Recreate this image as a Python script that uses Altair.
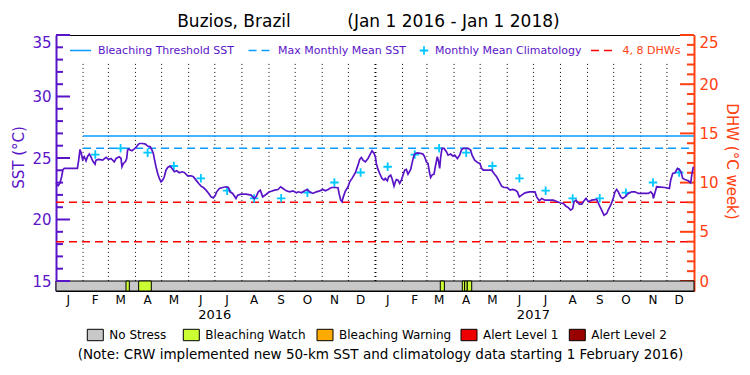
import altair as alt
import pandas as pd

START = pd.Timestamp("2016-01-01")
TOTAL_DAYS = 731

# ---------------- data ----------------
# daily SST (days since 1 Jan 2016, degC)
sst_day = [0, 2.5, 4.5, 6.5, 8.0, 9.5, 24.5, 26.0, 27.5, 29.0, 30.5, 32.5, 34.4, 36.3, 38.2, 40.0,
           42.0, 44.7, 45.8, 48.9, 53.5, 57.3, 60.3, 63.0, 66.8, 68.8, 72.6, 74.5, 75.6, 77.2,
           79.4, 81.0, 82.0, 83.0, 87.0, 89.0, 91.7, 93.6, 95.5, 99.3, 102.4, 105.0, 108.0,
           110.0, 111.5, 113.0, 114.6, 116.5, 118.4, 120.3, 122.2, 124.1, 126.0, 128.0, 130.6,
           133.0, 135.6, 138.3, 141.3, 144.4, 147.0, 150.9, 154.7, 157.4, 160.4, 163.5, 166.2,
           168.8, 171.9, 175.0, 177.6, 180.3, 182.6, 184.1, 187.2, 191.0, 194.8, 197.5, 199.4,
           202.4, 206.2, 208.2, 212.0, 217.7, 223.4, 227.3, 229.2, 231.8, 234.1, 236.8, 240.6,
           244.4, 246.7, 250.5, 254.4, 257.4, 260.1, 263.9, 267.7, 271.5, 275.4, 278.0, 281.1,
           284.9, 288.0, 290.6, 294.5, 298.3, 302.1, 305.9, 308.6, 311.7, 315.5, 319.3, 323.1,
           324.3, 326.2, 327.7, 329.2, 331.5, 334.6, 336.5, 339.2, 343.0, 346.0, 348.0, 349.9,
           351.8, 354.4, 357.5, 360.5, 362.1, 364.4, 365.9, 367.0, 369.0, 370.9, 373.5, 375.8,
           377.3, 379.6, 381.2, 383.5, 385.0, 387.3, 388.8, 390.0, 391.9, 393.8, 395.7, 397.6,
           399.5, 401.4, 403.3, 406.4, 407.9, 410.2, 411.7, 414.0, 417.8, 420.5, 422.4, 424.3,
           426.2, 428.2, 429.3, 430.8, 433.1, 434.6, 436.9, 438.5, 439.6, 440.8, 442.3, 444.6,
           447.3, 449.2, 452.2, 454.9, 456.8, 459.9, 462.5, 464.4, 466.4, 472.1, 475.1, 476.7,
           479.7, 483.5, 485.8, 487.7, 489.6, 499.2, 501.8, 504.9, 508.0, 510.6, 513.3, 517.1,
           520.2, 523.2, 525.9, 528.6, 530.9, 533.5, 537.4, 542.3, 548.8, 550.7, 553.8, 556.5,
           560.3, 569.8, 574.4, 577.5, 581.3, 584.3, 587.0, 589.7, 592.0, 593.5, 595.8, 599.6,
           602.3, 605.0, 607.3, 610.0, 613.8, 619.5, 622.5, 625.2, 627.9, 631.0, 632.9, 635.5,
           637.8, 640.5, 642.4, 644.3, 647.0, 649.3, 651.9, 655.8, 659.6, 663.4, 667.2, 678.7,
           681.4, 683.7, 684.4, 686.3, 688.2, 697.8, 702.8, 704.3, 706.6, 709.3, 712.0, 714.2,
           716.1, 718.1, 720.7, 724.5, 727.2, 728.7, 730.3]
sst_value = [22.95, 22.75, 22.95, 23.50, 24.05, 24.15, 24.15, 24.83, 25.70, 25.37, 24.88, 25.10,
             24.77, 25.15, 25.32, 25.10, 24.77, 24.50, 24.83, 24.88, 24.83, 25.05, 24.88, 24.96,
             24.69, 24.96, 25.10, 24.96, 24.29, 24.56, 24.69, 24.96, 25.64, 25.72, 25.59, 25.70,
             25.86, 26.05, 26.18, 26.18, 26.13, 25.97, 25.91, 25.64, 25.37, 24.83, 24.29, 23.74,
             23.34, 23.06, 23.20, 23.47, 24.01, 24.23, 24.34, 24.15, 23.88, 23.96, 23.80, 23.88,
             23.83, 23.55, 23.55, 23.47, 23.20, 22.93, 22.71, 22.60, 22.39, 22.12, 21.84, 21.76,
             21.98, 22.25, 22.52, 22.60, 22.66, 22.60, 22.25, 22.12, 21.71, 21.98, 22.06, 22.06,
             21.98, 21.71, 21.84, 22.25, 22.39, 21.84, 22.03, 22.25, 22.30, 22.39, 22.44, 22.66,
             22.52, 22.33, 22.25, 22.33, 22.17, 22.25, 22.17, 22.33, 22.44, 22.25, 22.12, 22.25,
             22.33, 22.44, 22.33, 22.44, 22.60, 22.60, 22.58, 22.12, 21.57, 21.44, 21.84, 22.30,
             22.66, 23.06, 23.34, 23.80, 24.42, 24.88, 25.05, 24.83, 24.69, 24.96, 25.37, 25.59,
             25.37, 25.10, 24.56, 24.07, 23.74, 23.34, 23.20, 23.34, 23.15, 23.47, 23.61, 23.34,
             22.71, 23.06, 23.25, 23.20, 22.93, 23.20, 23.61, 24.01, 24.07, 23.69, 24.07, 24.56,
             25.23, 25.37, 25.42, 25.37, 25.32, 25.10, 24.69, 24.56, 23.74, 23.42, 23.61, 23.69,
             24.29, 25.10, 24.69, 24.15, 25.10, 25.78, 25.78, 25.51, 25.23, 25.32, 25.15, 25.23,
             24.96, 25.23, 25.64, 25.78, 25.78, 25.64, 25.23, 24.83, 24.61, 24.56, 24.15, 24.01,
             24.01, 23.74, 23.47, 23.06, 22.71, 22.60, 22.60, 22.39, 22.44, 22.39, 22.25, 21.84,
             21.98, 22.17, 22.25, 22.25, 21.84, 21.52, 21.71, 21.57, 21.57, 21.44, 21.36, 21.30,
             21.08, 20.97, 20.76, 20.89, 21.44, 21.57, 21.25, 21.25, 21.52, 21.71, 21.44, 21.57,
             21.63, 21.16, 20.76, 20.35, 20.49, 20.81, 21.16, 21.57, 22.25, 22.44, 22.25, 21.84,
             21.71, 21.84, 22.12, 22.25, 22.25, 22.12, 22.12, 22.25, 22.06, 21.71, 22.17, 22.66,
             22.60, 22.52, 23.20, 23.74, 23.80, 24.15, 24.07, 23.88, 23.34, 23.25, 23.15, 22.98,
             23.74, 24.29]

# monthly mean climatology, Feb 2016 .. Dec 2017 (plotted mid-month)
clim_value = [25.28, 25.79, 25.43, 24.35, 23.35, 22.34, 21.71, 21.72, 22.18, 23.01, 23.82,
              24.29, 25.28, 25.79, 25.43, 24.35, 23.35, 22.34, 21.71, 21.72, 22.18, 23.01, 23.82]

bleaching_threshold = 26.79
max_monthly_mean = 25.79
dhw_levels = [4, 8]

# stress-level bar (days since 1 Jan 2016)
status_start = [0, 80.2, 94.7, 440.3, 465.5, 468.2, 471.2]
status_end = [731, 84.0, 109.2, 445.0, 468.2, 471.2, 476.3]
status_kind = ["No Stress", "Bleaching Watch", "Bleaching Watch", "Bleaching Watch",
               "Bleaching Watch", "Bleaching Watch", "Bleaching Watch"]

month_letters = list("JFMAMJJASONDJFMAMJJASOND")
year_labels = ["2016", "2017"]

legend_names = ["No Stress", "Bleaching Watch", "Bleaching Warning", "Alert Level 1", "Alert Level 2"]
legend_colors = ["#c8c8c8", "#ccff33", "#ffaa00", "#ee0000", "#990000"]

# ---------------- styling ----------------
FONT = "DejaVu Sans"
PURPLE = "#5a14c8"
ORANGE = "#ff4010"
BLUE = "#0a9bff"
CYAN = "#00c8ff"
RED = "#ff0000"
W, H = 638, 256
SST_DOMAIN = [14.187, 35]
DHW_DOMAIN = [-1.016, 25]
PLUS = "M-1,0L1,0M0,-1L0,1"


def to_day(ts):
    return [(pd.Timestamp(t) - START).days for t in ts]


month_starts = pd.date_range("2016-01-01", "2017-12-01", freq="MS")
month_mid = month_starts + pd.Timedelta(days=14)
clim_dates = pd.date_range("2016-02-01", "2017-12-01", freq="MS") + pd.Timedelta(days=14)

sst_df = pd.DataFrame({"day": sst_day, "sst": sst_value})
clim_df = pd.DataFrame({"day": to_day(clim_dates), "sst": clim_value})
bounds = to_day(month_starts[1:])
grid_df = pd.DataFrame({"day": bounds, "sst": [32.65] * len(bounds), "sst2": [15] * len(bounds),
                        "year": [d == 366 for d in bounds]})
thr_df = pd.DataFrame({"day": [31], "day2": [TOTAL_DAYS], "sst": [bleaching_threshold]})
mmm_df = pd.DataFrame({"day": [31], "day2": [TOTAL_DAYS], "sst": [max_monthly_mean]})
dhw_df = pd.DataFrame({"day": [0] * 2, "day2": [TOTAL_DAYS] * 2, "dhw": dhw_levels})
status_df = pd.DataFrame({"day": status_start, "day2": status_end, "kind": status_kind,
                          "sst": [SST_DOMAIN[0]] * len(status_kind), "sst2": [15] * len(status_kind)})
month_df = pd.DataFrame({"day": to_day(month_mid), "label": month_letters})
year_df = pd.DataFrame({"day": to_day(["2016-07-01", "2017-07-01"]), "label": year_labels})
sst_ticks = pd.DataFrame({"sst": list(range(15, 36))})
dhw_ticks = pd.DataFrame({"dhw": list(range(0, 26))})
one = pd.DataFrame({"k": [0]})

X = alt.X("day:Q", scale=alt.Scale(domain=[0, TOTAL_DAYS], nice=False, zero=False), axis=None)
X2 = alt.X2("day2")

sst_axis = alt.Axis(values=[15, 20, 25, 30, 35], ticks=False, tickSize=0, grid=False,
                    domainColor=PURPLE, domainWidth=2, labelColor=PURPLE, labelFont=FONT,
                    labelFontSize=15, labelPadding=5, labelFlush=True,
                    title="SST (°C)", titleColor=PURPLE, titleFont=FONT, titleFontSize=15,
                    titleFontWeight="normal", titleAngle=270, titleX=-38, titleY=122,
                    titleAlign="center", titleBaseline="middle")
dhw_axis = alt.Axis(orient="right", values=[0, 5, 10, 15, 20, 25], ticks=False, tickSize=0,
                    grid=False, domainColor=ORANGE, domainWidth=2, labelColor=ORANGE,
                    labelFont=FONT, labelFontSize=15, labelPadding=5, labelFlush=True,
                    title="DHW (°C week)", titleColor=ORANGE, titleFont=FONT, titleFontSize=15,
                    titleFontWeight="normal", titleAngle=90, titleX=37, titleY=126,
                    titleAlign="center", titleBaseline="middle")
Y = alt.Y("sst:Q", scale=alt.Scale(domain=SST_DOMAIN, nice=False, zero=False), axis=sst_axis)
Y2 = alt.Y2("sst2")
YD = alt.Y("dhw:Q", scale=alt.Scale(domain=DHW_DOMAIN, nice=False, zero=False), axis=dhw_axis)

grid = alt.Chart(grid_df).mark_rule(color="black", strokeDash=[1, 3]).encode(
    x=X, y=Y, y2=Y2,
    strokeWidth=alt.condition("datum.year", alt.value(2), alt.value(1)))
thr = alt.Chart(thr_df).mark_rule(color=BLUE, strokeWidth=1.5).encode(x=X, x2=X2, y=Y)
mmm = alt.Chart(mmm_df).mark_rule(color=BLUE, strokeWidth=1.5, strokeDash=[8, 5]).encode(x=X, x2=X2, y=Y)
clim = alt.Chart(clim_df).mark_point(shape=PLUS, size=72, filled=False, color=CYAN,
                                     strokeWidth=1.8, opacity=1).encode(x=X, y=Y)
line = alt.Chart(sst_df).mark_line(color=PURPLE, strokeWidth=1.7).encode(x=X, y=Y)
status = alt.Chart(status_df).mark_rect(stroke="black", strokeWidth=1).encode(
    x=X, x2=X2, y=Y, y2=Y2,
    color=alt.Color("kind:N", scale=alt.Scale(domain=legend_names, range=legend_colors), legend=None))
lt_major = alt.Chart(sst_ticks).transform_filter("datum.sst % 5 == 0").mark_rule(
    color=PURPLE, strokeWidth=2).encode(x=alt.value(0), x2=alt.value(14), y=Y)
lt_minor = alt.Chart(sst_ticks).transform_filter("datum.sst % 5 != 0").mark_rule(
    color=PURPLE, strokeWidth=2).encode(x=alt.value(0), x2=alt.value(7), y=Y)

months = alt.Chart(month_df).mark_text(font=FONT, fontSize=12, color="black", baseline="middle").encode(
    x=X, y=alt.value(264.5), text="label:N")
years = alt.Chart(year_df).mark_text(font=FONT, fontSize=13, color="black", baseline="middle").encode(
    x=X, y=alt.value(280), text="label:N")


def txt(s, x, y, size, color="black", align="left"):
    return alt.Chart(one).mark_text(font=FONT, fontSize=size, color=color, align=align,
                                    baseline="middle").encode(
        x=alt.value(x), y=alt.value(y), text=alt.value(s))


def seg(x1, x2, y, color, dash=None):
    kw = dict(color=color, strokeWidth=1.5)
    if dash:
        kw["strokeDash"] = dash
    return alt.Chart(one).mark_rule(**kw).encode(x=alt.value(x1), x2=alt.value(x2), y=alt.value(y))


deco = [
    txt("Buzios, Brazil", 178, -13, 17, align="center"),
    txt("(Jan 1 2016 - Jan 1 2018)", 397.5, -13, 17, align="center"),
    seg(14, 35, 15.5, BLUE),
    txt("Bleaching Threshold SST", 42, 15.5, 11, PURPLE),
    seg(192.5, 215.6, 15.5, BLUE, [8, 5]),
    txt("Max Monthly Mean SST", 222, 15.5, 11, PURPLE),
    alt.Chart(one).mark_point(shape=PLUS, size=72, filled=False, color=CYAN, strokeWidth=1.8,
                              opacity=1).encode(x=alt.value(368), y=alt.value(15.5)),
    txt("Monthly Mean Climatology", 379, 15.5, 11, PURPLE),
    seg(535, 559, 15.5, RED, [8, 5]),
    txt("4, 8 DHWs", 566.6, 15.5, 11, ORANGE),
    txt("(Note: CRW implemented new 50-km SST and climatology data starting 1 February 2016)",
        324.5, 320, 13.5, align="center"),
]
box_x = [31.3, 127.3, 261, 405, 513.3]
for name, color, bx in zip(legend_names, legend_colors, box_x):
    deco.append(alt.Chart(one).mark_rect(fill=color, stroke="black", strokeWidth=1).encode(
        x=alt.value(bx), x2=alt.value(bx + 16), y=alt.value(294.3), y2=alt.value(305.7)))
    deco.append(txt(name, bx + 22, 300, 12))

sst_layer = alt.layer(grid, thr, mmm, clim, line, status, lt_major, lt_minor, months, years, *deco)

dhw_lines = alt.Chart(dhw_df).mark_rule(color=RED, strokeWidth=1.5, strokeDash=[8, 5]).encode(
    x=X, x2=X2, y=YD)
rt_major = alt.Chart(dhw_ticks).transform_filter("datum.dhw % 5 == 0").mark_rule(
    color=ORANGE, strokeWidth=2).encode(x=alt.value(W - 14), x2=alt.value(W), y=YD)
rt_minor = alt.Chart(dhw_ticks).transform_filter("datum.dhw % 5 != 0").mark_rule(
    color=ORANGE, strokeWidth=2).encode(x=alt.value(W - 7), x2=alt.value(W), y=YD)
dhw_layer = alt.layer(dhw_lines, rt_major, rt_minor)

chart = alt.layer(dhw_layer, sst_layer).resolve_scale(y="independent").properties(
    width=W, height=H,
    padding={"left": 56, "top": 35, "right": 56, "bottom": 84},
    autosize=alt.AutoSizeParams(type="none"),
    background="white",
).configure_view(stroke="black", strokeWidth=1)

chart.save("out.html", embed_options={"renderer": "svg", "actions": False})
